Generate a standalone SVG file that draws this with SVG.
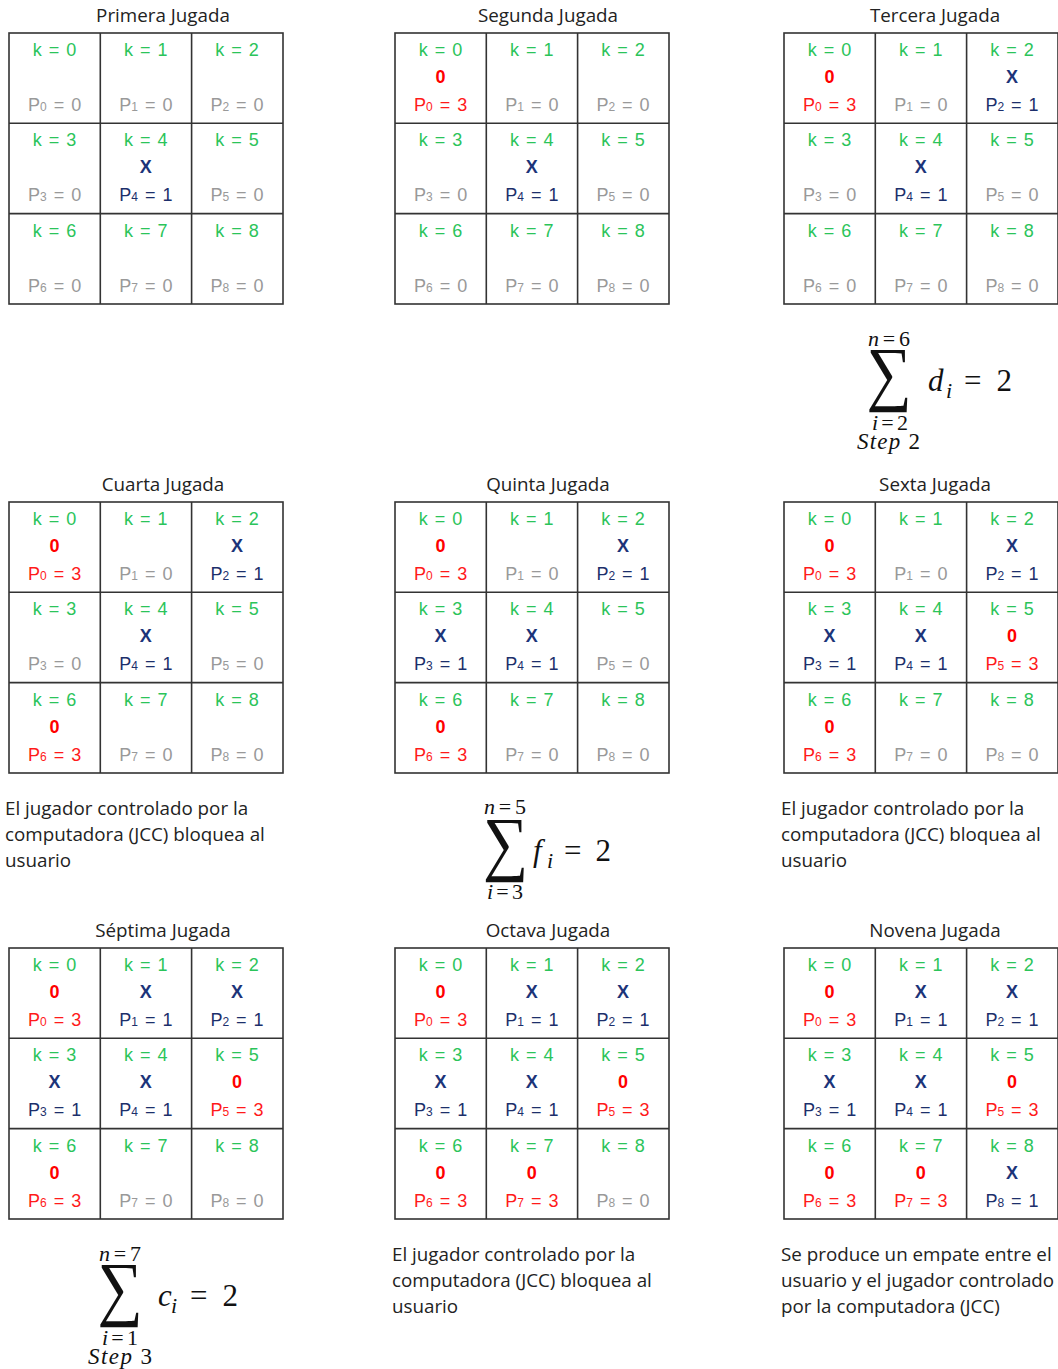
<svg xmlns="http://www.w3.org/2000/svg" width="1058" height="1369" viewBox="0 0 1058 1369">
<style>
.bg{fill:#fff}
.grid{fill:none;stroke:#333;stroke-width:1.6}
.title{font-family:"Open Sans",sans-serif;font-size:18.8px;fill:#222;text-anchor:middle}
.note{font-family:"Open Sans",sans-serif;font-size:18.8px;fill:#222}
.c{font-family:"Liberation Sans",Arial,sans-serif;font-size:18px;text-anchor:middle;word-spacing:2px}
.k{fill:#2bc45a}
.g{fill:#999}
.b{fill:#1c2f6b}
.r{fill:#ff1a1a}
.mx{font-weight:bold;fill:#1c3479}
.mo{font-weight:bold;fill:#ff0000}
.s{font-size:12px}
.m{font-family:"Liberation Serif",serif;fill:#111}
.it{font-style:italic}
.lim{font-size:22px}
.big{font-size:31px}
.sub{font-size:22px}
.step{font-size:23px}
</style>
<rect class="bg" x="0" y="0" width="1058" height="1369"/>
<defs>
<g id="gridshape">
<rect class="grid" x="0" y="0" width="274" height="271"/>
<line class="grid" x1="91.3" y1="0" x2="91.3" y2="271"/>
<line class="grid" x1="182.6" y1="0" x2="182.6" y2="271"/>
<line class="grid" x1="0" y1="90.3" x2="274" y2="90.3"/>
<line class="grid" x1="0" y1="180.6" x2="274" y2="180.6"/>
</g>
</defs>
<g id="connectors"></g>

<!-- Board 1 -->
<g id="board1">
<text class="title" x="163" y="22">Primera Jugada</text>
<use href="#gridshape" x="9" y="33"/>
<text class="c k" x="54.6" y="56">k = 0</text><text class="c g" x="54.6" y="111">P<tspan class="s">0</tspan> = 0</text>
<text class="c k" x="145.8" y="56">k = 1</text><text class="c g" x="145.8" y="111">P<tspan class="s">1</tspan> = 0</text>
<text class="c k" x="237" y="56">k = 2</text><text class="c g" x="237" y="111">P<tspan class="s">2</tspan> = 0</text>
<text class="c k" x="54.6" y="146">k = 3</text><text class="c g" x="54.6" y="201">P<tspan class="s">3</tspan> = 0</text>
<text class="c k" x="145.8" y="146">k = 4</text><text class="c mx" x="145.8" y="173">X</text><text class="c b" x="145.8" y="201">P<tspan class="s">4</tspan> = 1</text>
<text class="c k" x="237" y="146">k = 5</text><text class="c g" x="237" y="201">P<tspan class="s">5</tspan> = 0</text>
<text class="c k" x="54.6" y="237">k = 6</text><text class="c g" x="54.6" y="292">P<tspan class="s">6</tspan> = 0</text>
<text class="c k" x="145.8" y="237">k = 7</text><text class="c g" x="145.8" y="292">P<tspan class="s">7</tspan> = 0</text>
<text class="c k" x="237" y="237">k = 8</text><text class="c g" x="237" y="292">P<tspan class="s">8</tspan> = 0</text>
</g>

<!-- Board 2 -->
<g id="board2">
<text class="title" x="548" y="22">Segunda Jugada</text>
<use href="#gridshape" x="395" y="33"/>
<text class="c k" x="440.6" y="56">k = 0</text><text class="c mo" x="440.6" y="83">0</text><text class="c r" x="440.6" y="111">P<tspan class="s">0</tspan> = 3</text>
<text class="c k" x="531.8" y="56">k = 1</text><text class="c g" x="531.8" y="111">P<tspan class="s">1</tspan> = 0</text>
<text class="c k" x="623" y="56">k = 2</text><text class="c g" x="623" y="111">P<tspan class="s">2</tspan> = 0</text>
<text class="c k" x="440.6" y="146">k = 3</text><text class="c g" x="440.6" y="201">P<tspan class="s">3</tspan> = 0</text>
<text class="c k" x="531.8" y="146">k = 4</text><text class="c mx" x="531.8" y="173">X</text><text class="c b" x="531.8" y="201">P<tspan class="s">4</tspan> = 1</text>
<text class="c k" x="623" y="146">k = 5</text><text class="c g" x="623" y="201">P<tspan class="s">5</tspan> = 0</text>
<text class="c k" x="440.6" y="237">k = 6</text><text class="c g" x="440.6" y="292">P<tspan class="s">6</tspan> = 0</text>
<text class="c k" x="531.8" y="237">k = 7</text><text class="c g" x="531.8" y="292">P<tspan class="s">7</tspan> = 0</text>
<text class="c k" x="623" y="237">k = 8</text><text class="c g" x="623" y="292">P<tspan class="s">8</tspan> = 0</text>
</g>

<!-- Board 3 -->
<g id="board3">
<text class="title" x="935" y="22">Tercera Jugada</text>
<use href="#gridshape" x="784" y="33"/>
<text class="c k" x="829.6" y="56">k = 0</text><text class="c mo" x="829.6" y="83">0</text><text class="c r" x="829.6" y="111">P<tspan class="s">0</tspan> = 3</text>
<text class="c k" x="920.8" y="56">k = 1</text><text class="c g" x="920.8" y="111">P<tspan class="s">1</tspan> = 0</text>
<text class="c k" x="1012" y="56">k = 2</text><text class="c mx" x="1012" y="83">X</text><text class="c b" x="1012" y="111">P<tspan class="s">2</tspan> = 1</text>
<text class="c k" x="829.6" y="146">k = 3</text><text class="c g" x="829.6" y="201">P<tspan class="s">3</tspan> = 0</text>
<text class="c k" x="920.8" y="146">k = 4</text><text class="c mx" x="920.8" y="173">X</text><text class="c b" x="920.8" y="201">P<tspan class="s">4</tspan> = 1</text>
<text class="c k" x="1012" y="146">k = 5</text><text class="c g" x="1012" y="201">P<tspan class="s">5</tspan> = 0</text>
<text class="c k" x="829.6" y="237">k = 6</text><text class="c g" x="829.6" y="292">P<tspan class="s">6</tspan> = 0</text>
<text class="c k" x="920.8" y="237">k = 7</text><text class="c g" x="920.8" y="292">P<tspan class="s">7</tspan> = 0</text>
<text class="c k" x="1012" y="237">k = 8</text><text class="c g" x="1012" y="292">P<tspan class="s">8</tspan> = 0</text>
</g>

<!-- Formula 1 -->
<g id="formula1">
<text class="m it lim" x="868" y="346" textLength="42" lengthAdjust="spacing">n<tspan font-style="normal">=6</tspan></text>
<text class="m" transform="translate(889,396.5) scale(0.88,1)" font-size="72" text-anchor="middle">∑</text>
<text class="m it big" x="928" y="391">d</text>
<text class="m it sub" x="946" y="398">i</text>
<text class="m big" x="964" y="391" textLength="48" lengthAdjust="spacing">= 2</text>
<text class="m it lim" x="872" y="430" textLength="36" lengthAdjust="spacing">i<tspan font-style="normal">=2</tspan></text>
<text class="m it step" x="857" y="449" textLength="63" lengthAdjust="spacing">Step <tspan font-style="normal">2</tspan></text>
</g>

<!-- Board 4 -->
<g id="board4">
<text class="title" x="163" y="491">Cuarta Jugada</text>
<use href="#gridshape" x="9" y="502"/>
<text class="c k" x="54.6" y="525">k = 0</text><text class="c mo" x="54.6" y="552">0</text><text class="c r" x="54.6" y="580">P<tspan class="s">0</tspan> = 3</text>
<text class="c k" x="145.8" y="525">k = 1</text><text class="c g" x="145.8" y="580">P<tspan class="s">1</tspan> = 0</text>
<text class="c k" x="237" y="525">k = 2</text><text class="c mx" x="237" y="552">X</text><text class="c b" x="237" y="580">P<tspan class="s">2</tspan> = 1</text>
<text class="c k" x="54.6" y="615">k = 3</text><text class="c g" x="54.6" y="670">P<tspan class="s">3</tspan> = 0</text>
<text class="c k" x="145.8" y="615">k = 4</text><text class="c mx" x="145.8" y="642">X</text><text class="c b" x="145.8" y="670">P<tspan class="s">4</tspan> = 1</text>
<text class="c k" x="237" y="615">k = 5</text><text class="c g" x="237" y="670">P<tspan class="s">5</tspan> = 0</text>
<text class="c k" x="54.6" y="706">k = 6</text><text class="c mo" x="54.6" y="733">0</text><text class="c r" x="54.6" y="761">P<tspan class="s">6</tspan> = 3</text>
<text class="c k" x="145.8" y="706">k = 7</text><text class="c g" x="145.8" y="761">P<tspan class="s">7</tspan> = 0</text>
<text class="c k" x="237" y="706">k = 8</text><text class="c g" x="237" y="761">P<tspan class="s">8</tspan> = 0</text>
</g>

<!-- Board 5 -->
<g id="board5">
<text class="title" x="548" y="491">Quinta Jugada</text>
<use href="#gridshape" x="395" y="502"/>
<text class="c k" x="440.6" y="525">k = 0</text><text class="c mo" x="440.6" y="552">0</text><text class="c r" x="440.6" y="580">P<tspan class="s">0</tspan> = 3</text>
<text class="c k" x="531.8" y="525">k = 1</text><text class="c g" x="531.8" y="580">P<tspan class="s">1</tspan> = 0</text>
<text class="c k" x="623" y="525">k = 2</text><text class="c mx" x="623" y="552">X</text><text class="c b" x="623" y="580">P<tspan class="s">2</tspan> = 1</text>
<text class="c k" x="440.6" y="615">k = 3</text><text class="c mx" x="440.6" y="642">X</text><text class="c b" x="440.6" y="670">P<tspan class="s">3</tspan> = 1</text>
<text class="c k" x="531.8" y="615">k = 4</text><text class="c mx" x="531.8" y="642">X</text><text class="c b" x="531.8" y="670">P<tspan class="s">4</tspan> = 1</text>
<text class="c k" x="623" y="615">k = 5</text><text class="c g" x="623" y="670">P<tspan class="s">5</tspan> = 0</text>
<text class="c k" x="440.6" y="706">k = 6</text><text class="c mo" x="440.6" y="733">0</text><text class="c r" x="440.6" y="761">P<tspan class="s">6</tspan> = 3</text>
<text class="c k" x="531.8" y="706">k = 7</text><text class="c g" x="531.8" y="761">P<tspan class="s">7</tspan> = 0</text>
<text class="c k" x="623" y="706">k = 8</text><text class="c g" x="623" y="761">P<tspan class="s">8</tspan> = 0</text>
</g>

<!-- Board 6 -->
<g id="board6">
<text class="title" x="935" y="491">Sexta Jugada</text>
<use href="#gridshape" x="784" y="502"/>
<text class="c k" x="829.6" y="525">k = 0</text><text class="c mo" x="829.6" y="552">0</text><text class="c r" x="829.6" y="580">P<tspan class="s">0</tspan> = 3</text>
<text class="c k" x="920.8" y="525">k = 1</text><text class="c g" x="920.8" y="580">P<tspan class="s">1</tspan> = 0</text>
<text class="c k" x="1012" y="525">k = 2</text><text class="c mx" x="1012" y="552">X</text><text class="c b" x="1012" y="580">P<tspan class="s">2</tspan> = 1</text>
<text class="c k" x="829.6" y="615">k = 3</text><text class="c mx" x="829.6" y="642">X</text><text class="c b" x="829.6" y="670">P<tspan class="s">3</tspan> = 1</text>
<text class="c k" x="920.8" y="615">k = 4</text><text class="c mx" x="920.8" y="642">X</text><text class="c b" x="920.8" y="670">P<tspan class="s">4</tspan> = 1</text>
<text class="c k" x="1012" y="615">k = 5</text><text class="c mo" x="1012" y="642">0</text><text class="c r" x="1012" y="670">P<tspan class="s">5</tspan> = 3</text>
<text class="c k" x="829.6" y="706">k = 6</text><text class="c mo" x="829.6" y="733">0</text><text class="c r" x="829.6" y="761">P<tspan class="s">6</tspan> = 3</text>
<text class="c k" x="920.8" y="706">k = 7</text><text class="c g" x="920.8" y="761">P<tspan class="s">7</tspan> = 0</text>
<text class="c k" x="1012" y="706">k = 8</text><text class="c g" x="1012" y="761">P<tspan class="s">8</tspan> = 0</text>
</g>

<g id="note1">
<text class="note" x="5" y="815">El jugador controlado por la</text>
<text class="note" x="5" y="841">computadora (JCC) bloquea al</text>
<text class="note" x="5" y="867">usuario</text>
</g>

<!-- Formula 2 -->
<g id="formula2">
<text class="m it lim" x="484" y="814" textLength="42" lengthAdjust="spacing">n<tspan font-style="normal">=5</tspan></text>
<text class="m" transform="translate(505.5,866.5) scale(0.88,1)" font-size="72" text-anchor="middle">∑</text>
<text class="m it big" x="533" y="861">f</text>
<text class="m it sub" x="547" y="868">i</text>
<text class="m big" x="564" y="861" textLength="47" lengthAdjust="spacing">= 2</text>
<text class="m it lim" x="487" y="899" textLength="36" lengthAdjust="spacing">i<tspan font-style="normal">=3</tspan></text>
</g>

<g id="note2">
<text class="note" x="781" y="815">El jugador controlado por la</text>
<text class="note" x="781" y="841">computadora (JCC) bloquea al</text>
<text class="note" x="781" y="867">usuario</text>
</g>

<!-- Board 7 -->
<g id="board7">
<text class="title" x="163" y="937">Séptima Jugada</text>
<use href="#gridshape" x="9" y="948"/>
<text class="c k" x="54.6" y="971">k = 0</text><text class="c mo" x="54.6" y="998">0</text><text class="c r" x="54.6" y="1026">P<tspan class="s">0</tspan> = 3</text>
<text class="c k" x="145.8" y="971">k = 1</text><text class="c mx" x="145.8" y="998">X</text><text class="c b" x="145.8" y="1026">P<tspan class="s">1</tspan> = 1</text>
<text class="c k" x="237" y="971">k = 2</text><text class="c mx" x="237" y="998">X</text><text class="c b" x="237" y="1026">P<tspan class="s">2</tspan> = 1</text>
<text class="c k" x="54.6" y="1061">k = 3</text><text class="c mx" x="54.6" y="1088">X</text><text class="c b" x="54.6" y="1116">P<tspan class="s">3</tspan> = 1</text>
<text class="c k" x="145.8" y="1061">k = 4</text><text class="c mx" x="145.8" y="1088">X</text><text class="c b" x="145.8" y="1116">P<tspan class="s">4</tspan> = 1</text>
<text class="c k" x="237" y="1061">k = 5</text><text class="c mo" x="237" y="1088">0</text><text class="c r" x="237" y="1116">P<tspan class="s">5</tspan> = 3</text>
<text class="c k" x="54.6" y="1152">k = 6</text><text class="c mo" x="54.6" y="1179">0</text><text class="c r" x="54.6" y="1207">P<tspan class="s">6</tspan> = 3</text>
<text class="c k" x="145.8" y="1152">k = 7</text><text class="c g" x="145.8" y="1207">P<tspan class="s">7</tspan> = 0</text>
<text class="c k" x="237" y="1152">k = 8</text><text class="c g" x="237" y="1207">P<tspan class="s">8</tspan> = 0</text>
</g>

<!-- Board 8 -->
<g id="board8">
<text class="title" x="548" y="937">Octava Jugada</text>
<use href="#gridshape" x="395" y="948"/>
<text class="c k" x="440.6" y="971">k = 0</text><text class="c mo" x="440.6" y="998">0</text><text class="c r" x="440.6" y="1026">P<tspan class="s">0</tspan> = 3</text>
<text class="c k" x="531.8" y="971">k = 1</text><text class="c mx" x="531.8" y="998">X</text><text class="c b" x="531.8" y="1026">P<tspan class="s">1</tspan> = 1</text>
<text class="c k" x="623" y="971">k = 2</text><text class="c mx" x="623" y="998">X</text><text class="c b" x="623" y="1026">P<tspan class="s">2</tspan> = 1</text>
<text class="c k" x="440.6" y="1061">k = 3</text><text class="c mx" x="440.6" y="1088">X</text><text class="c b" x="440.6" y="1116">P<tspan class="s">3</tspan> = 1</text>
<text class="c k" x="531.8" y="1061">k = 4</text><text class="c mx" x="531.8" y="1088">X</text><text class="c b" x="531.8" y="1116">P<tspan class="s">4</tspan> = 1</text>
<text class="c k" x="623" y="1061">k = 5</text><text class="c mo" x="623" y="1088">0</text><text class="c r" x="623" y="1116">P<tspan class="s">5</tspan> = 3</text>
<text class="c k" x="440.6" y="1152">k = 6</text><text class="c mo" x="440.6" y="1179">0</text><text class="c r" x="440.6" y="1207">P<tspan class="s">6</tspan> = 3</text>
<text class="c k" x="531.8" y="1152">k = 7</text><text class="c mo" x="531.8" y="1179">0</text><text class="c r" x="531.8" y="1207">P<tspan class="s">7</tspan> = 3</text>
<text class="c k" x="623" y="1152">k = 8</text><text class="c g" x="623" y="1207">P<tspan class="s">8</tspan> = 0</text>
</g>

<!-- Board 9 -->
<g id="board9">
<text class="title" x="935" y="937">Novena Jugada</text>
<use href="#gridshape" x="784" y="948"/>
<text class="c k" x="829.6" y="971">k = 0</text><text class="c mo" x="829.6" y="998">0</text><text class="c r" x="829.6" y="1026">P<tspan class="s">0</tspan> = 3</text>
<text class="c k" x="920.8" y="971">k = 1</text><text class="c mx" x="920.8" y="998">X</text><text class="c b" x="920.8" y="1026">P<tspan class="s">1</tspan> = 1</text>
<text class="c k" x="1012" y="971">k = 2</text><text class="c mx" x="1012" y="998">X</text><text class="c b" x="1012" y="1026">P<tspan class="s">2</tspan> = 1</text>
<text class="c k" x="829.6" y="1061">k = 3</text><text class="c mx" x="829.6" y="1088">X</text><text class="c b" x="829.6" y="1116">P<tspan class="s">3</tspan> = 1</text>
<text class="c k" x="920.8" y="1061">k = 4</text><text class="c mx" x="920.8" y="1088">X</text><text class="c b" x="920.8" y="1116">P<tspan class="s">4</tspan> = 1</text>
<text class="c k" x="1012" y="1061">k = 5</text><text class="c mo" x="1012" y="1088">0</text><text class="c r" x="1012" y="1116">P<tspan class="s">5</tspan> = 3</text>
<text class="c k" x="829.6" y="1152">k = 6</text><text class="c mo" x="829.6" y="1179">0</text><text class="c r" x="829.6" y="1207">P<tspan class="s">6</tspan> = 3</text>
<text class="c k" x="920.8" y="1152">k = 7</text><text class="c mo" x="920.8" y="1179">0</text><text class="c r" x="920.8" y="1207">P<tspan class="s">7</tspan> = 3</text>
<text class="c k" x="1012" y="1152">k = 8</text><text class="c mx" x="1012" y="1179">X</text><text class="c b" x="1012" y="1207">P<tspan class="s">8</tspan> = 1</text>
</g>

<!-- Formula 3 -->
<g id="formula3">
<text class="m it lim" x="99" y="1261" textLength="42" lengthAdjust="spacing">n<tspan font-style="normal">=7</tspan></text>
<text class="m" transform="translate(120,1311.5) scale(0.88,1)" font-size="72" text-anchor="middle">∑</text>
<text class="m it big" x="158" y="1306">c</text>
<text class="m it sub" x="171" y="1313">i</text>
<text class="m big" x="190" y="1306" textLength="48" lengthAdjust="spacing">= 2</text>
<text class="m it lim" x="102" y="1345" textLength="36" lengthAdjust="spacing">i<tspan font-style="normal">=1</tspan></text>
<text class="m it step" x="88" y="1364" textLength="64" lengthAdjust="spacing">Step <tspan font-style="normal">3</tspan></text>
</g>

<g id="note3">
<text class="note" x="392" y="1261">El jugador controlado por la</text>
<text class="note" x="392" y="1287">computadora (JCC) bloquea al</text>
<text class="note" x="392" y="1313">usuario</text>
</g>

<g id="note4">
<text class="note" x="781" y="1261">Se produce un empate entre el</text>
<text class="note" x="781" y="1287">usuario y el jugador controlado</text>
<text class="note" x="781" y="1313">por la computadora (JCC)</text>
</g>
</svg>
